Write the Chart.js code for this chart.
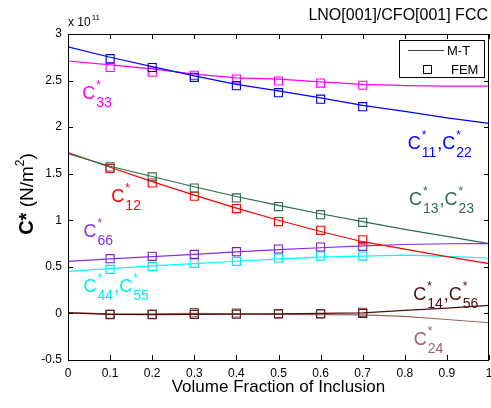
<!DOCTYPE html>
<html>
<head>
<meta charset="utf-8">
<script src="https://cdn.jsdelivr.net/npm/chart.js@4/dist/chart.umd.min.js"></script>
<style>
  body { margin: 0; background: #fff; }
  canvas { display: block; }
</style>
</head>
<body>
<canvas id="chart" width="491" height="408"></canvas>
<script>
// volume fractions
const xModel = [0, 0.1, 0.2, 0.3, 0.4, 0.5, 0.6, 0.7, 0.8, 0.9, 1];
const xFem = [0.1, 0.2, 0.3, 0.4, 0.5, 0.6, 0.7];

// M-T (model) curves, units of 1e11 N/m^2
const c11Model = [2.863, 2.75, 2.65, 2.55, 2.46, 2.39, 2.315, 2.233, 2.17, 2.10, 2.04];
const c33Model = [2.71, 2.668, 2.625, 2.57, 2.53, 2.516, 2.487, 2.459, 2.445, 2.44, 2.44];
const c13Model = [1.717, 1.58, 1.47, 1.36, 1.255, 1.16, 1.07, 0.985, 0.903, 0.828, 0.75];
const c12Model = [1.728, 1.57, 1.415, 1.27, 1.13, 1.0, 0.88, 0.77, 0.69, 0.61, 0.534];
const c66Model = [0.559, 0.585, 0.61, 0.635, 0.66, 0.685, 0.705, 0.725, 0.74, 0.748, 0.75];
const c44Model = [0.452, 0.48, 0.51, 0.535, 0.56, 0.585, 0.605, 0.615, 0.625, 0.612, 0.595];
const c14Model = [0.005, -0.01, -0.012, -0.01, -0.008, -0.004, 0.0, 0.005, 0.032, 0.057, 0.086];
const c24Model = [0.01, -0.005, -0.005, 0.0, -0.005, -0.01, -0.012, -0.015, -0.032, -0.065, -0.1];

// FEM results
const c11Fem = [2.735, 2.64, 2.535, 2.445, 2.37, 2.30, 2.22];
const c33Fem = [2.64, 2.59, 2.556, 2.516, 2.495, 2.473, 2.45];
const c13Fem = [1.573, 1.466, 1.347, 1.24, 1.147, 1.06, 0.978];
const c12Fem = [1.556, 1.40, 1.258, 1.126, 0.986, 0.892, 0.79];
const c66Fem = [0.588, 0.613, 0.634, 0.663, 0.692, 0.713, 0.72];
const c44Fem = [0.473, 0.505, 0.538, 0.559, 0.595, 0.616, 0.616];
const c14Fem = [-0.012, -0.012, -0.01, -0.008, -0.005, -0.003, 0.0];
const c24Fem = [-0.008, -0.008, 0.008, 0.005, -0.002, -0.005, 0.012];

// ticks
const xTicks = [0, 0.1, 0.2, 0.3, 0.4, 0.5, 0.6, 0.7, 0.8, 0.9, 1];
const xTickLabels = ['0', '0.1', '0.2', '0.3', '0.4', '0.5', '0.6', '0.7', '0.8', '0.9', '1'];
const yTicks = [-0.5, 0, 0.5, 1, 1.5, 2, 2.5, 3];
const yTickLabels = ['-0.5', '0', '0.5', '1', '1.5', '2', '2.5', '3'];

// curve labels: [subscripts, x, y, colour]
const curveLabels = [
  [['33'], 0.034, 2.30, '#ff00ff'],
  [['11', '22'], 0.807, 1.77, '#0000ff'],
  [['12'], 0.103, 1.197, '#ff0000'],
  [['13', '23'], 0.81, 1.16, '#2e6b4a'],
  [['66'], 0.037, 0.82, '#8a2be2'],
  [['44', '55'], 0.037, 0.229, '#00eeee'],
  [['14', '56'], 0.82, 0.14, '#4a0e0e'],
  [['24'], 0.821, -0.344, '#a06262']
];

const FONT = '"Liberation Sans", Arial, sans-serif';

function pts(xs, ys) {
  return xs.map((x, i) => ({ x: x, y: ys[i] }));
}

function modelSet(ys, color) {
  return {
    data: pts(xModel, ys), borderColor: color, borderWidth: 1.2,
    pointRadius: 0, fill: false, tension: 0
  };
}

function femSet(ys, color) {
  return {
    data: pts(xFem, ys), borderColor: color, showLine: false,
    pointStyle: 'rect', pointRadius: 5.7, pointBorderWidth: 1.1,
    pointBackgroundColor: 'rgba(0,0,0,0)', pointBorderColor: color
  };
}

const datasets = [
  modelSet(c11Model, '#0000ff'), femSet(c11Fem, '#0000cc'),
  modelSet(c33Model, '#ff00ff'), femSet(c33Fem, '#ff00ff'),
  modelSet(c13Model, '#2e6b4a'), femSet(c13Fem, '#2e6b4a'),
  modelSet(c12Model, '#ff0000'), femSet(c12Fem, '#ff0000'),
  modelSet(c66Model, '#8a2be2'), femSet(c66Fem, '#7a1fc0'),
  modelSet(c44Model, '#00ffff'), femSet(c44Fem, '#00e5e5'),
  modelSet(c14Model, '#4a0e0e'), femSet(c14Fem, '#5a2020'),
  modelSet(c24Model, '#a06262'), femSet(c24Fem, '#8a5050')
];

function drawCLabel(ctx, x, y, subs, color) {
  ctx.fillStyle = color;
  ctx.textAlign = 'left';
  ctx.textBaseline = 'alphabetic';
  subs.forEach((s, i) => {
    if (i > 0) {
      ctx.font = '18px ' + FONT;
      ctx.fillText(',', x, y);
      x += ctx.measureText(',').width;
    }
    ctx.font = '18px ' + FONT;
    ctx.fillText('C', x, y);
    x += ctx.measureText('C').width + 1;
    ctx.font = '12px ' + FONT;
    ctx.fillText('*', x, y - 10);
    const sw = ctx.measureText('*').width;
    ctx.font = '14px ' + FONT;
    ctx.fillText(s, x, y + 8);
    x += Math.max(sw, ctx.measureText(s).width) + 1;
  });
}

const decorations = {
  id: 'decorations',
  afterDraw(chart) {
    const { ctx, chartArea: a, scales } = chart;
    const xs = scales.x, ys = scales.y;
    ctx.save();

    // frame and inward ticks
    ctx.strokeStyle = '#000';
    ctx.lineWidth = 1;
    ctx.strokeRect(Math.round(a.left) + 0.5, Math.round(a.top) + 0.5,
      Math.round(a.right - a.left) - 1, Math.round(a.bottom - a.top));
    ctx.beginPath();
    xTicks.forEach(v => {
      const px = Math.round(xs.getPixelForValue(v)) + 0.5;
      ctx.moveTo(px, a.bottom); ctx.lineTo(px, a.bottom - 5);
      ctx.moveTo(px, a.top); ctx.lineTo(px, a.top + 5);
    });
    yTicks.forEach(v => {
      const py = Math.round(ys.getPixelForValue(v)) + 0.5;
      ctx.moveTo(a.left, py); ctx.lineTo(a.left + 5, py);
      ctx.moveTo(a.right, py); ctx.lineTo(a.right - 5, py);
    });
    ctx.stroke();

    // curve labels
    curveLabels.forEach(([subs, vx, vy, color]) => {
      drawCLabel(ctx, xs.getPixelForValue(vx), ys.getPixelForValue(vy), subs, color);
    });

    // title
    ctx.fillStyle = '#000';
    ctx.font = '16px ' + FONT;
    ctx.textAlign = 'right';
    ctx.textBaseline = 'alphabetic';
    ctx.fillText('LNO[001]/CFO[001] FCC', a.right - 1, 20);

    // exponent
    ctx.textAlign = 'left';
    ctx.font = '12px ' + FONT;
    ctx.fillText('x 10', a.left, 26);
    const ew = ctx.measureText('x 10').width;
    ctx.font = '8px ' + FONT;
    ctx.fillText('11', a.left + ew + 1, 20);

    // x title
    ctx.font = '17px ' + FONT;
    ctx.textAlign = 'center';
    ctx.fillText('Volume Fraction of Inclusion', (a.left + a.right) / 2, 392);

    // y title (rotated)
    ctx.save();
    ctx.translate(33, (a.top + a.bottom) / 2 - 3);
    ctx.rotate(-Math.PI / 2);
    const parts = [
      ['C*', 'bold 20px ' + FONT, 0],
      [' (N/m', '19px ' + FONT, 0],
      ['2', '12px ' + FONT, -9],
      [')', '19px ' + FONT, 0]
    ];
    let total = 0;
    parts.forEach(p => { ctx.font = p[1]; total += ctx.measureText(p[0]).width; });
    let cx = -total / 2;
    ctx.textAlign = 'left';
    parts.forEach(p => {
      ctx.font = p[1];
      ctx.fillText(p[0], cx, p[2]);
      cx += ctx.measureText(p[0]).width;
    });
    ctx.restore();

    // legend
    const lx = 399.5, ly = 40.5, lw = 85, lh = 37;
    ctx.fillStyle = '#fff';
    ctx.fillRect(lx, ly, lw, lh);
    ctx.strokeStyle = '#000';
    ctx.strokeRect(lx, ly, lw, lh);
    ctx.strokeStyle = '#444';
    ctx.lineWidth = 1.2;
    ctx.beginPath();
    ctx.moveTo(408, 50.5); ctx.lineTo(444, 50.5);
    ctx.stroke();
    ctx.strokeStyle = '#000';
    ctx.lineWidth = 1;
    ctx.strokeRect(423.5, 65.5, 8, 8);
    ctx.fillStyle = '#000';
    ctx.font = '13px ' + FONT;
    ctx.textAlign = 'left';
    ctx.fillText('M-T', 447, 55);
    ctx.fillText('FEM', 451, 74);

    ctx.restore();
  }
};

new Chart(document.getElementById('chart'), {
  type: 'line',
  data: { datasets: datasets },
  options: {
    responsive: false,
    animation: false,
    layout: { autoPadding: false, padding: { top: 34, right: 2, left: 0, bottom: 0 } },
    plugins: { legend: { display: false }, tooltip: { enabled: false } },
    scales: {
      x: {
        type: 'linear', min: 0, max: 1,
        afterBuildTicks: s => { s.ticks = xTicks.map(v => ({ value: v })); },
        afterFit: s => { s.height = 48; s.paddingLeft = 0; s.paddingRight = 0; },
        grid: { display: false, drawTicks: false },
        border: { display: false },
        ticks: {
          padding: 6, color: '#000', font: { family: FONT, size: 12 },
          maxRotation: 0, autoSkip: false,
          callback: (v, i) => xTickLabels[i]
        }
      },
      y: {
        type: 'linear', min: -0.5, max: 3,
        afterBuildTicks: s => { s.ticks = yTicks.map(v => ({ value: v })); },
        afterFit: s => { s.width = 68; s.paddingTop = 0; s.paddingBottom = 0; },
        grid: { display: false, drawTicks: false },
        border: { display: false },
        ticks: {
          padding: 6, color: '#000', font: { family: FONT, size: 12 },
          callback: (v, i) => yTickLabels[i]
        }
      }
    }
  },
  plugins: [decorations]
});
</script>
</body>
</html>
